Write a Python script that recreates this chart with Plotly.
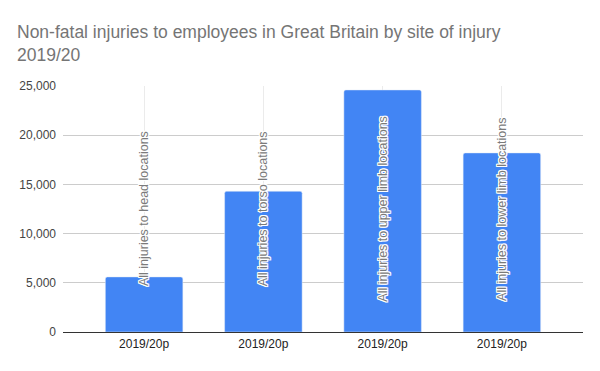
import plotly.graph_objects as go

categories = ["All injuries to head locations", "All injuries to torso locations",
              "All injuries to upper limb locations", "All injuries to lower limb locations"]
values = [5600, 14300, 24600, 18200]
tick_label = "2019/20p"
y_ticks = [0, 5000, 10000, 15000, 20000, 25000]
title = "Non-fatal injuries to employees in Great Britain by site of injury<br>2019/20"

xs = list(range(len(categories)))

fig = go.Figure()
fig.add_trace(go.Bar(
    x=xs, y=values, marker=dict(color="#4285F4", cornerradius=2),
    width=0.65, hoverinfo="y", showlegend=False,
))

halo = ("-1px -1px 0 #fff, 1px -1px 0 #fff, -1px 1px 0 #fff, 1px 1px 0 #fff, "
        "0 1px 0 #fff, 0 -1px 0 #fff, 1px 0 0 #fff, -1px 0 0 #fff")
for x, c in zip(xs, categories):
    fig.add_annotation(
        x=x, xref="x", y=0.5, yref="paper", text=c, textangle=-90,
        showarrow=False, xanchor="center", yanchor="middle",
        font=dict(family="Arial, Liberation Sans", size=12.5, color="#7a7a7a", shadow=halo),
    )

fig.update_layout(
    width=600, height=371,
    margin=dict(l=55, r=25, t=78, b=47),
    paper_bgcolor="white", plot_bgcolor="white",
    font=dict(family="Arial, Liberation Sans", size=12, color="#444"),
    title=dict(text=title, x=0.015, xanchor="left", y=1 - 30 / 371, yanchor="top",
               font=dict(size=17.5, color="#757575")),
    bargap=0.35,
)
fig.update_xaxes(
    tickmode="array", tickvals=xs, ticktext=[tick_label] * len(xs),
    range=[-0.68, 3.68], showgrid=True, gridcolor="#ebebeb",
    showline=False, zeroline=False, tickfont=dict(color="#222", size=12),
    ticks="", ticklen=0, ticklabelstandoff=3,
)
fig.update_yaxes(
    range=[0, 25000], tickvals=y_ticks, tickformat=",", showgrid=True, gridcolor="#cccccc",
    zeroline=True, zerolinecolor="#333", zerolinewidth=1, showline=False,
    tickfont=dict(color="#444", size=12), ticks="", ticklabelstandoff=6,
)

fig.write_html("out.html")
